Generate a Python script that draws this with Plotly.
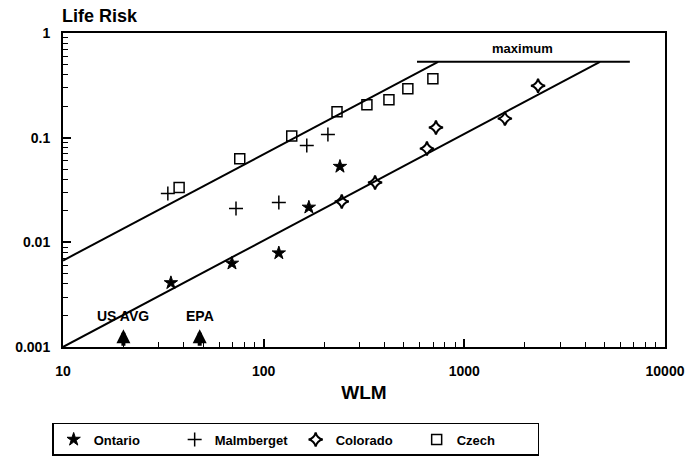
import math
import plotly.graph_objects as go

# ---- data ----
ontario_x = [34.5, 69.5, 119, 168, 240]
ontario_y = [0.0041, 0.0063, 0.0079, 0.0216, 0.053]

malmberget_x = [33.3, 72.8, 119, 164, 209]
malmberget_y = [0.0293, 0.0211, 0.024, 0.084, 0.107]

colorado_x = [245, 359, 651, 722, 1592, 2330]
colorado_y = [0.0246, 0.0373, 0.0786, 0.125, 0.152, 0.313]

czech_x = [37.9, 76, 138, 232, 327, 421, 523, 697]
czech_y = [0.0334, 0.063, 0.104, 0.177, 0.206, 0.23, 0.293, 0.365]

upper_fit_x = [10, 740]
upper_fit_y = [0.0067, 0.53]
lower_fit_x = [10, 4740]
lower_fit_y = [0.001, 0.53]
maximum_x = [581, 6680]
maximum_y = [0.53, 0.53]

ref_x = [20, 48]
ref_labels = ["US AVG", "EPA"]

x_ticks = [10, 100, 1000, 10000]
x_ticktext = ["10", "100", "1000", "10000"]
y_ticks = [0.001, 0.01, 0.1, 1]
y_ticktext = ["0.001", "0.01", "0.1", "1"]
minor_mult = [2, 3, 4, 5, 6, 7, 8, 9]

FONT = "Liberation Sans, Arial, sans-serif"
BLACK = "black"

x_minor = [m * d for d in [10, 100, 1000] for m in minor_mult]
y_minor = [m * d for d in [0.001, 0.01, 0.1] for m in minor_mult]

fig = go.Figure()

# fit lines
for fx, fy in [(upper_fit_x, upper_fit_y), (lower_fit_x, lower_fit_y), (maximum_x, maximum_y)]:
    fig.add_trace(go.Scatter(x=fx, y=fy, mode="lines", line=dict(color=BLACK, width=2),
                             showlegend=False, hoverinfo="skip"))

fig.add_trace(go.Scatter(x=ontario_x, y=ontario_y, mode="markers", name="Ontario",
                         marker=dict(symbol="star", size=10, color=BLACK,
                                     line=dict(color=BLACK, width=1))))
fig.add_trace(go.Scatter(x=malmberget_x, y=malmberget_y, mode="markers", name="Malmberget",
                         marker=dict(symbol="cross-thin-open", size=10, color=BLACK,
                                     line=dict(color=BLACK, width=1.5))))
fig.add_trace(go.Scatter(x=colorado_x, y=colorado_y, mode="markers", name="Colorado",
                         marker=dict(symbol="star-diamond-open", size=10, color=BLACK,
                                     line=dict(color=BLACK, width=2))))
fig.add_trace(go.Scatter(x=czech_x, y=czech_y, mode="markers", name="Czech",
                         marker=dict(symbol="square-open", size=10, color=BLACK,
                                     line=dict(color=BLACK, width=1.5))))

# reference arrows
for rx, lab in zip(ref_x, ref_labels):
    fig.add_annotation(x=math.log10(rx), y=-2.83, xref="x", yref="y",
                       ax=0, ay=18, showarrow=True, arrowhead=2, arrowsize=0.7,
                       arrowwidth=4, arrowcolor=BLACK, text="")
    fig.add_annotation(x=math.log10(rx), y=-2.7, xref="x", yref="y",
                       text=lab, showarrow=False,
                       font=dict(family=FONT, size=14, color=BLACK, weight="bold"))

fig.add_annotation(x=math.log10(1950), y=-0.15, xref="x", yref="y",
                   text="maximum", showarrow=False,
                   font=dict(family=FONT, size=13, color=BLACK, weight="bold"))

fig.add_annotation(x=-0.005, y=1.015, xref="paper", yref="paper", xanchor="left", yanchor="bottom",
                   text="Life Risk", showarrow=False,
                   font=dict(family=FONT, size=18, color=BLACK, weight="bold"))

fig.update_xaxes(type="log", range=[1, 4], tickvals=x_ticks, ticktext=x_ticktext,
                 showline=True, linecolor=BLACK, linewidth=2, mirror=True,
                 ticks="inside", ticklen=8, tickwidth=1.5, tickcolor=BLACK,
                 minor=dict(tickvals=x_minor, ticks="inside", ticklen=5, tickwidth=1,
                            tickcolor=BLACK, showgrid=False),
                 showgrid=False, zeroline=False, automargin=False, ticklabelstandoff=10,
                 tickfont=dict(family=FONT, size=14, color=BLACK, weight="bold"),
                 title=dict(text="WLM", standoff=8,
                            font=dict(family=FONT, size=19, color=BLACK, weight="bold")))
fig.update_yaxes(type="log", range=[-3, 0], tickvals=y_ticks, ticktext=y_ticktext,
                 showline=True, linecolor=BLACK, linewidth=2, mirror=True,
                 ticks="inside", ticklen=8, tickwidth=1.5, tickcolor=BLACK,
                 minor=dict(tickvals=y_minor, ticks="inside", ticklen=5, tickwidth=1,
                            tickcolor=BLACK, showgrid=False),
                 showgrid=False, zeroline=False, automargin=False, ticklabelstandoff=8,
                 tickfont=dict(family=FONT, size=14, color=BLACK, weight="bold"))

fig.update_layout(
    width=693, height=471,
    margin=dict(l=63, r=28, t=33, b=124),
    plot_bgcolor="white", paper_bgcolor="white",
    showlegend=True,
    legend=dict(orientation="h", x=-0.018, xanchor="left", y=-0.242, yanchor="top",
                bordercolor=BLACK, borderwidth=1.5, entrywidth=76,
                font=dict(family=FONT, size=13, color=BLACK, weight="bold")),
)

fig.write_html("out.html", config={"displayModeBar": False},
               post_script="document.body.style.margin='0';document.body.style.padding='0';")
